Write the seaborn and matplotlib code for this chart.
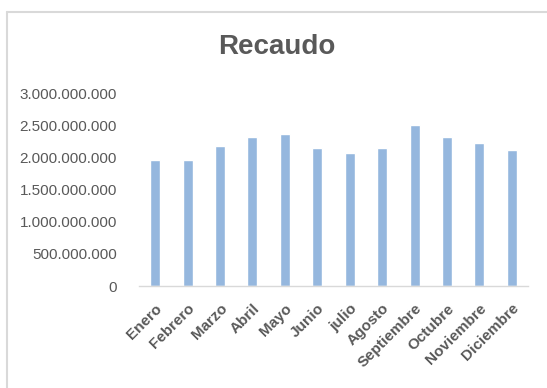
import matplotlib
matplotlib.use("Agg")
import matplotlib.pyplot as plt
from matplotlib.lines import Line2D
from matplotlib.ticker import FuncFormatter
import seaborn as sns
import pandas as pd

months = ["Enero", "Febrero", "Marzo", "Abril", "Mayo", "Junio", "julio",
          "Agosto", "Septiembre", "Octubre", "Noviembre", "Diciembre"]
recaudo = [1.966e9, 1.966e9, 2.18e9, 2.32e9, 2.37e9, 2.15e9, 2.06e9,
           2.15e9, 2.51e9, 2.32e9, 2.23e9, 2.12e9]
yticks = [0, 5e8, 1e9, 1.5e9, 2e9, 2.5e9, 3e9]

sns.set_theme(style="white")
plt.rcParams['font.family'] = ['Liberation Sans', 'DejaVu Sans']

df = pd.DataFrame({"mes": months, "recaudo": recaudo})

fig = plt.figure(figsize=(5.47, 3.88), dpi=100)
ax = fig.add_axes([139/547, 1 - 286/388, (528 - 139)/547, (286 - 93)/388])
sns.barplot(data=df, x="mes", y="recaudo", color="#95B7DE", width=0.31,
            saturation=1, ax=ax)

ax.set_ylim(0, 3e9)
ax.set_xlim(-0.5, len(months) - 0.5)
ax.set_yticks(yticks)
ax.yaxis.set_major_formatter(FuncFormatter(lambda v, p: f"{int(v):,}".replace(",", ".")))
ax.set_xlabel("")
ax.set_ylabel("")
for s in ["top", "right", "left"]:
    ax.spines[s].set_visible(False)
ax.spines["bottom"].set_color("#D9D9D9")
ax.spines["bottom"].set_linewidth(1.0)
ax.tick_params(axis="y", length=0, pad=16, labelsize=11, labelcolor="#595959")
ax.tick_params(axis="x", length=0, pad=11, labelsize=11, labelcolor="#595959")
for lbl in ax.get_xticklabels():
    lbl.set_rotation(45)
    lbl.set_ha("right")
    lbl.set_rotation_mode("anchor")
    lbl.set_fontweight("bold")

fig.text(276.5/547, 1 - 47/388, "Recaudo", ha="center", va="center",
         fontsize=20, fontweight="bold", color="#595959")

# outer chart frame (partially visible)
fig.add_artist(Line2D([6.5/547, 1], [1 - 11.5/388, 1 - 11.5/388],
                      transform=fig.transFigure, color="#D9D9D9", lw=1.5))
fig.add_artist(Line2D([6.5/547, 6.5/547], [0, 1 - 11.5/388],
                      transform=fig.transFigure, color="#D9D9D9", lw=1.5))

fig.savefig("out.png", dpi=100)
